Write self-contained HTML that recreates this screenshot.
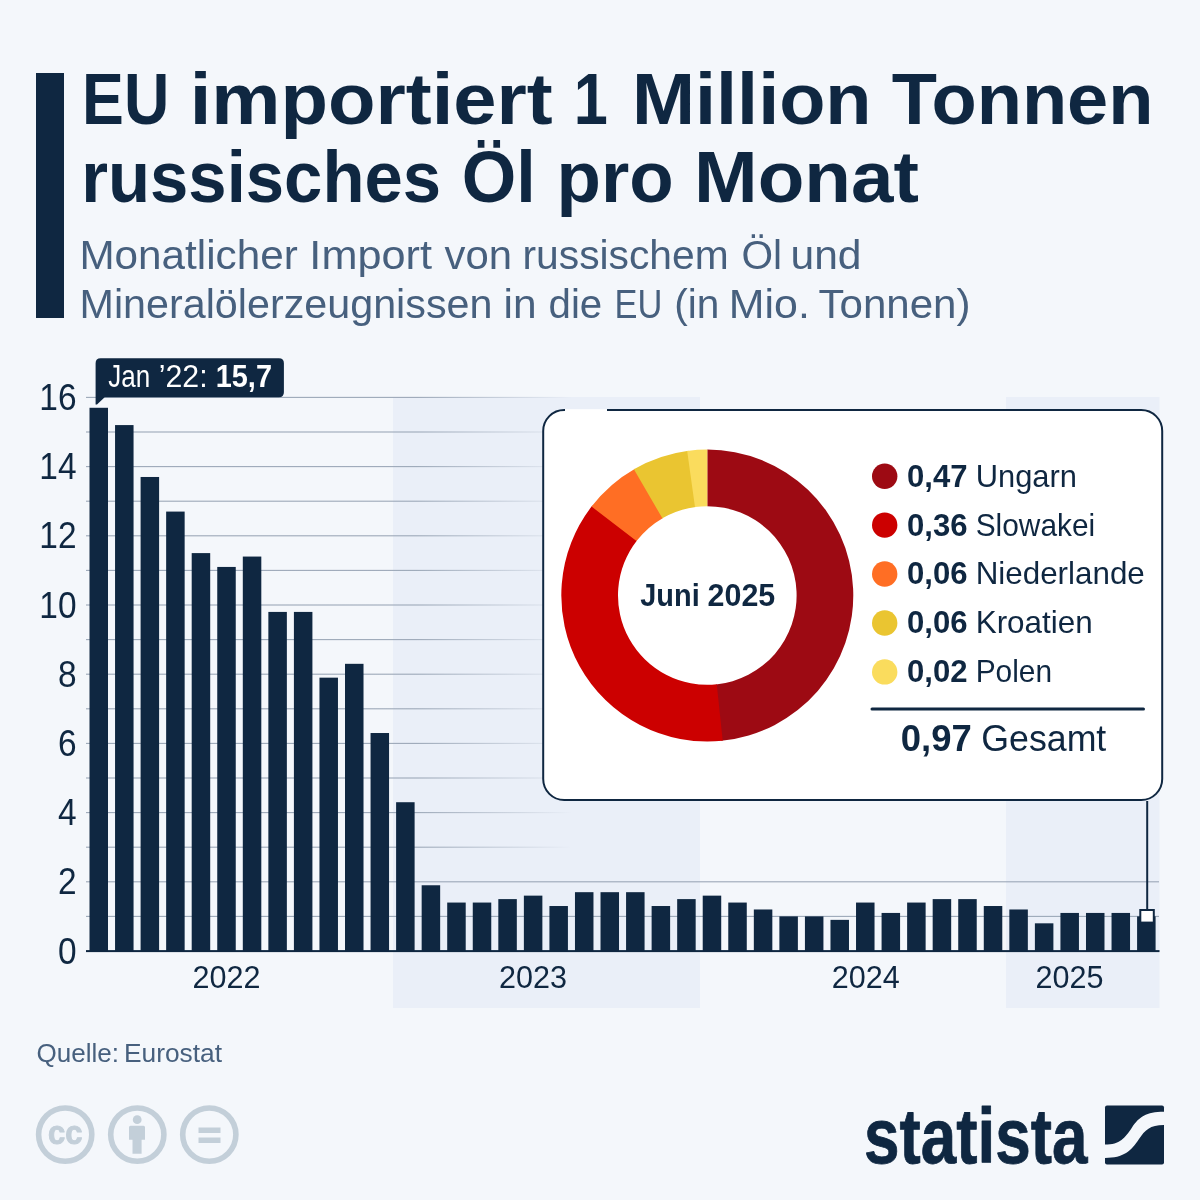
<!DOCTYPE html>
<html lang="de"><head><meta charset="utf-8"><title>EU importiert 1 Million Tonnen russisches Öl pro Monat</title>
<style>html,body{margin:0;padding:0;background:#f4f7fb;}body{width:1200px;height:1200px;overflow:hidden;}svg{display:block;}text{font-family:"Liberation Sans",sans-serif;}</style>
</head><body>
<svg width="1200" height="1200" viewBox="0 0 1200 1200">
<defs>
<linearGradient id="fadeR" gradientUnits="userSpaceOnUse" x1="86" x2="572" y1="0" y2="0"><stop offset="0" stop-color="#9ca8b8" stop-opacity="1"/><stop offset="0.68" stop-color="#9ca8b8" stop-opacity="1"/><stop offset="1" stop-color="#9ca8b8" stop-opacity="0"/></linearGradient>
</defs>
<rect x="0" y="0" width="1200" height="1200" fill="#f4f7fb"/>
<rect x="36" y="73" width="28" height="245" fill="#0f2741"/>
<text y="123.9" font-size="72.7" font-weight="700" fill="#0f2741"><tspan x="82.04" textLength="87.22" lengthAdjust="spacingAndGlyphs">EU</tspan> <tspan x="189.65" textLength="363.07" lengthAdjust="spacingAndGlyphs">importiert</tspan> <tspan x="573.63" textLength="34.07" lengthAdjust="spacingAndGlyphs">1</tspan> <tspan x="632.09" textLength="239.49" lengthAdjust="spacingAndGlyphs">Million</tspan> <tspan x="891.75" textLength="261.73" lengthAdjust="spacingAndGlyphs">Tonnen</tspan></text>
<text y="201.7" font-size="72.7" font-weight="700" fill="#0f2741"><tspan x="81.21" textLength="359.84" lengthAdjust="spacingAndGlyphs">russisches</tspan> <tspan x="461.82" textLength="73.97" lengthAdjust="spacingAndGlyphs">Öl</tspan> <tspan x="556.50" textLength="117.15" lengthAdjust="spacingAndGlyphs">pro</tspan> <tspan x="694.05" textLength="224.92" lengthAdjust="spacingAndGlyphs">Monat</tspan></text>
<text y="269.4" font-size="41.3" font-weight="400" fill="#47607e"><tspan x="79.43" textLength="218.31" lengthAdjust="spacingAndGlyphs">Monatlicher</tspan> <tspan x="309.36" textLength="122.59" lengthAdjust="spacingAndGlyphs">Import</tspan> <tspan x="444.50" textLength="67.49" lengthAdjust="spacingAndGlyphs">von</tspan> <tspan x="522.53" textLength="206.09" lengthAdjust="spacingAndGlyphs">russischem</tspan> <tspan x="741.52" textLength="40.62" lengthAdjust="spacingAndGlyphs">Öl</tspan> <tspan x="790.44" textLength="71.09" lengthAdjust="spacingAndGlyphs">und</tspan></text>
<text y="318.2" font-size="41.3" font-weight="400" fill="#47607e"><tspan x="79.50" textLength="412.96" lengthAdjust="spacingAndGlyphs">Mineralölerzeugnissen</tspan> <tspan x="503.44" textLength="33.08" lengthAdjust="spacingAndGlyphs">in</tspan> <tspan x="548.53" textLength="53.67" lengthAdjust="spacingAndGlyphs">die</tspan> <tspan x="614.50" textLength="47.86" lengthAdjust="spacingAndGlyphs">EU</tspan> <tspan x="674.28" textLength="45.15" lengthAdjust="spacingAndGlyphs">(in</tspan> <tspan x="728.89" textLength="80.97" lengthAdjust="spacingAndGlyphs">Mio.</tspan> <tspan x="818.50" textLength="152.04" lengthAdjust="spacingAndGlyphs">Tonnen)</tspan></text>
<rect x="393" y="397" width="307" height="611" fill="#eaeff8"/>
<rect x="1006" y="397" width="153.5" height="611" fill="#eaeff8"/>
<rect x="86" y="915.85" width="1073" height="1.1" fill="#9ca8b8"/>
<rect x="86" y="881.25" width="1073" height="1.1" fill="#9ca8b8"/>
<rect x="86" y="846.65" width="486" height="1.1" fill="url(#fadeR)"/>
<rect x="86" y="812.05" width="486" height="1.1" fill="url(#fadeR)"/>
<rect x="86" y="777.45" width="486" height="1.1" fill="url(#fadeR)"/>
<rect x="86" y="742.85" width="486" height="1.1" fill="url(#fadeR)"/>
<rect x="86" y="708.25" width="486" height="1.1" fill="url(#fadeR)"/>
<rect x="86" y="673.65" width="486" height="1.1" fill="url(#fadeR)"/>
<rect x="86" y="639.05" width="486" height="1.1" fill="url(#fadeR)"/>
<rect x="86" y="604.45" width="486" height="1.1" fill="url(#fadeR)"/>
<rect x="86" y="569.85" width="486" height="1.1" fill="url(#fadeR)"/>
<rect x="86" y="535.25" width="486" height="1.1" fill="url(#fadeR)"/>
<rect x="86" y="500.65" width="486" height="1.1" fill="url(#fadeR)"/>
<rect x="86" y="466.05" width="486" height="1.1" fill="url(#fadeR)"/>
<rect x="86" y="431.45" width="486" height="1.1" fill="url(#fadeR)"/>
<rect x="86" y="396.85" width="486" height="1.1" fill="url(#fadeR)"/>
<rect x="89.50" y="407.78" width="18.5" height="543.22" fill="#0f2741"/>
<rect x="115.05" y="425.08" width="18.5" height="525.92" fill="#0f2741"/>
<rect x="140.60" y="476.98" width="18.5" height="474.02" fill="#0f2741"/>
<rect x="166.15" y="511.58" width="18.5" height="439.42" fill="#0f2741"/>
<rect x="191.70" y="553.10" width="18.5" height="397.90" fill="#0f2741"/>
<rect x="217.25" y="566.94" width="18.5" height="384.06" fill="#0f2741"/>
<rect x="242.81" y="556.56" width="18.5" height="394.44" fill="#0f2741"/>
<rect x="268.36" y="611.92" width="18.5" height="339.08" fill="#0f2741"/>
<rect x="293.91" y="611.92" width="18.5" height="339.08" fill="#0f2741"/>
<rect x="319.46" y="677.66" width="18.5" height="273.34" fill="#0f2741"/>
<rect x="345.01" y="663.82" width="18.5" height="287.18" fill="#0f2741"/>
<rect x="370.56" y="733.02" width="18.5" height="217.98" fill="#0f2741"/>
<rect x="396.11" y="802.22" width="18.5" height="148.78" fill="#0f2741"/>
<rect x="421.66" y="885.26" width="18.5" height="65.74" fill="#0f2741"/>
<rect x="447.21" y="902.56" width="18.5" height="48.44" fill="#0f2741"/>
<rect x="472.76" y="902.56" width="18.5" height="48.44" fill="#0f2741"/>
<rect x="498.32" y="899.10" width="18.5" height="51.90" fill="#0f2741"/>
<rect x="523.87" y="895.64" width="18.5" height="55.36" fill="#0f2741"/>
<rect x="549.42" y="906.02" width="18.5" height="44.98" fill="#0f2741"/>
<rect x="574.97" y="892.18" width="18.5" height="58.82" fill="#0f2741"/>
<rect x="600.52" y="892.18" width="18.5" height="58.82" fill="#0f2741"/>
<rect x="626.07" y="892.18" width="18.5" height="58.82" fill="#0f2741"/>
<rect x="651.62" y="906.02" width="18.5" height="44.98" fill="#0f2741"/>
<rect x="677.17" y="899.10" width="18.5" height="51.90" fill="#0f2741"/>
<rect x="702.72" y="895.64" width="18.5" height="55.36" fill="#0f2741"/>
<rect x="728.27" y="902.56" width="18.5" height="48.44" fill="#0f2741"/>
<rect x="753.83" y="909.48" width="18.5" height="41.52" fill="#0f2741"/>
<rect x="779.38" y="916.40" width="18.5" height="34.60" fill="#0f2741"/>
<rect x="804.93" y="916.40" width="18.5" height="34.60" fill="#0f2741"/>
<rect x="830.48" y="919.86" width="18.5" height="31.14" fill="#0f2741"/>
<rect x="856.03" y="902.56" width="18.5" height="48.44" fill="#0f2741"/>
<rect x="881.58" y="912.94" width="18.5" height="38.06" fill="#0f2741"/>
<rect x="907.13" y="902.56" width="18.5" height="48.44" fill="#0f2741"/>
<rect x="932.68" y="899.10" width="18.5" height="51.90" fill="#0f2741"/>
<rect x="958.23" y="899.10" width="18.5" height="51.90" fill="#0f2741"/>
<rect x="983.78" y="906.02" width="18.5" height="44.98" fill="#0f2741"/>
<rect x="1009.34" y="909.48" width="18.5" height="41.52" fill="#0f2741"/>
<rect x="1034.89" y="923.32" width="18.5" height="27.68" fill="#0f2741"/>
<rect x="1060.44" y="912.94" width="18.5" height="38.06" fill="#0f2741"/>
<rect x="1085.99" y="912.94" width="18.5" height="38.06" fill="#0f2741"/>
<rect x="1111.54" y="912.94" width="18.5" height="38.06" fill="#0f2741"/>
<rect x="1137.09" y="916.40" width="18.5" height="34.60" fill="#0f2741"/>
<rect x="86" y="950.1" width="1073.5" height="2" fill="#0f2741"/>
<text x="76.5" y="963.6" font-size="36" fill="#0f2741" text-anchor="end" textLength="18.6" lengthAdjust="spacingAndGlyphs">0</text>
<text x="76.5" y="894.4" font-size="36" fill="#0f2741" text-anchor="end" textLength="18.6" lengthAdjust="spacingAndGlyphs">2</text>
<text x="76.5" y="825.2" font-size="36" fill="#0f2741" text-anchor="end" textLength="18.6" lengthAdjust="spacingAndGlyphs">4</text>
<text x="76.5" y="756.0" font-size="36" fill="#0f2741" text-anchor="end" textLength="18.6" lengthAdjust="spacingAndGlyphs">6</text>
<text x="76.5" y="686.8" font-size="36" fill="#0f2741" text-anchor="end" textLength="18.6" lengthAdjust="spacingAndGlyphs">8</text>
<text x="76.5" y="617.6" font-size="36" fill="#0f2741" text-anchor="end" textLength="37.2" lengthAdjust="spacingAndGlyphs">10</text>
<text x="76.5" y="548.4" font-size="36" fill="#0f2741" text-anchor="end" textLength="37.2" lengthAdjust="spacingAndGlyphs">12</text>
<text x="76.5" y="479.2" font-size="36" fill="#0f2741" text-anchor="end" textLength="37.2" lengthAdjust="spacingAndGlyphs">14</text>
<text x="76.5" y="410.0" font-size="36" fill="#0f2741" text-anchor="end" textLength="37.2" lengthAdjust="spacingAndGlyphs">16</text>
<text x="226.6" y="988" font-size="30.5" fill="#0f2741" text-anchor="middle" textLength="68" lengthAdjust="spacingAndGlyphs">2022</text>
<text x="533.0" y="988" font-size="30.5" fill="#0f2741" text-anchor="middle" textLength="68" lengthAdjust="spacingAndGlyphs">2023</text>
<text x="865.7" y="988" font-size="30.5" fill="#0f2741" text-anchor="middle" textLength="68" lengthAdjust="spacingAndGlyphs">2024</text>
<text x="1069.6" y="988" font-size="30.5" fill="#0f2741" text-anchor="middle" textLength="68" lengthAdjust="spacingAndGlyphs">2025</text>
<path d="M95.6 404.6 L95.6 363.2 Q95.6 358.2 100.6 358.2 L278.9 358.2 Q283.9 358.2 283.9 363.2 L283.9 392.3 Q283.9 397.3 278.9 397.3 L104.7 397.3 L97 404.6 Z" fill="#0f2741"/>
<text y="386.7" font-size="31" fill="#ffffff"><tspan x="108.30" textLength="41.94" lengthAdjust="spacingAndGlyphs">Jan</tspan> <tspan x="158.72" textLength="48.83" lengthAdjust="spacingAndGlyphs">’22:</tspan> <tspan x="215.77" textLength="56.19" lengthAdjust="spacingAndGlyphs" font-weight="700">15,7</tspan></text>
<rect x="543.2" y="410" width="619" height="390" rx="21" ry="21" fill="#ffffff" stroke="#0f2741" stroke-width="2"/>
<rect x="565" y="408.6" width="42" height="3.4" fill="#ffffff"/><rect x="565" y="408" width="42" height="1.2" fill="#eaeff8"/>
<line x1="1147.2" x2="1147.2" y1="801" y2="911" stroke="#0f2741" stroke-width="2"/>
<rect x="1140.3" y="910" width="13.5" height="12.6" fill="#ffffff" stroke="#0f2741" stroke-width="2"/>
<path d="M707.30 449.50 A146 146 0 0 1 721.46 740.81 L715.96 684.38 A89.3 89.3 0 0 0 707.30 506.20 Z" fill="#9d0a13"/>
<path d="M722.73 740.68 A146 146 0 0 1 592.32 505.53 L636.97 540.47 A89.3 89.3 0 0 0 716.74 684.30 Z" fill="#cc0000"/>
<path d="M591.53 506.54 A146 146 0 0 1 634.98 468.67 L663.07 517.92 A89.3 89.3 0 0 0 636.49 541.09 Z" fill="#ff6e24"/>
<path d="M633.88 469.30 A146 146 0 0 1 688.44 450.72 L695.76 506.95 A89.3 89.3 0 0 0 662.39 518.31 Z" fill="#eac531"/>
<path d="M687.18 450.89 A146 146 0 0 1 707.30 449.50 L707.30 506.20 A89.3 89.3 0 0 0 694.99 507.05 Z" fill="#fadc5d"/>
<text y="605.8" font-size="32" font-weight="700" fill="#0f2741"><tspan x="640.30" textLength="59.41" lengthAdjust="spacingAndGlyphs">Juni</tspan> <tspan x="707.55" textLength="67.71" lengthAdjust="spacingAndGlyphs">2025</tspan></text>
<circle cx="884.7" cy="476.2" r="12.7" fill="#9d0a13"/>
<text x="907" y="486.6" font-size="31.2" font-weight="700" fill="#0f2741" textLength="60.5" lengthAdjust="spacingAndGlyphs">0,47</text>
<text x="975.7" y="486.6" font-size="31.2" fill="#0f2741" textLength="101.3" lengthAdjust="spacingAndGlyphs">Ungarn</text>
<circle cx="884.7" cy="525.1" r="12.7" fill="#cc0000"/>
<text x="907" y="535.5" font-size="31.2" font-weight="700" fill="#0f2741" textLength="60.5" lengthAdjust="spacingAndGlyphs">0,36</text>
<text x="975.7" y="535.5" font-size="31.2" fill="#0f2741" textLength="119.5" lengthAdjust="spacingAndGlyphs">Slowakei</text>
<circle cx="884.7" cy="574.0" r="12.7" fill="#ff6e24"/>
<text x="907" y="584.4" font-size="31.2" font-weight="700" fill="#0f2741" textLength="60.5" lengthAdjust="spacingAndGlyphs">0,06</text>
<text x="975.7" y="584.4" font-size="31.2" fill="#0f2741" textLength="169.1" lengthAdjust="spacingAndGlyphs">Niederlande</text>
<circle cx="884.7" cy="623.0" r="12.7" fill="#eac531"/>
<text x="907" y="633.4" font-size="31.2" font-weight="700" fill="#0f2741" textLength="60.5" lengthAdjust="spacingAndGlyphs">0,06</text>
<text x="975.7" y="633.4" font-size="31.2" fill="#0f2741" textLength="117.1" lengthAdjust="spacingAndGlyphs">Kroatien</text>
<circle cx="884.7" cy="671.9" r="12.7" fill="#fadc5d"/>
<text x="907" y="682.2" font-size="31.2" font-weight="700" fill="#0f2741" textLength="60.5" lengthAdjust="spacingAndGlyphs">0,02</text>
<text x="975.7" y="682.2" font-size="31.2" fill="#0f2741" textLength="76.4" lengthAdjust="spacingAndGlyphs">Polen</text>
<rect x="870.5" y="707.6" width="274.5" height="3" rx="1.5" fill="#0f2741"/>
<text x="900.8" y="750.8" font-size="36.5" font-weight="700" fill="#0f2741" textLength="71" lengthAdjust="spacingAndGlyphs">0,97</text>
<text x="981.3" y="750.8" font-size="36.5" fill="#0f2741" textLength="125" lengthAdjust="spacingAndGlyphs">Gesamt</text>
<text y="1062.4" font-size="25.3" fill="#47607e"><tspan x="36.57" textLength="82.52" lengthAdjust="spacingAndGlyphs">Quelle:</tspan> <tspan x="123.92" textLength="98.11" lengthAdjust="spacingAndGlyphs">Eurostat</tspan></text>
<circle cx="65.2" cy="1134.6" r="26.6" fill="none" stroke="#c3cfd9" stroke-width="5.6"/>
<circle cx="137.3" cy="1134.6" r="26.6" fill="none" stroke="#c3cfd9" stroke-width="5.6"/>
<circle cx="209.3" cy="1134.6" r="26.6" fill="none" stroke="#c3cfd9" stroke-width="5.6"/>
<text x="65.2" y="1143.6" font-size="33" font-weight="700" fill="#c3cfd9" stroke="#c3cfd9" stroke-width="1" stroke-linejoin="round" text-anchor="middle" textLength="34.5" lengthAdjust="spacingAndGlyphs">cc</text>
<circle cx="137.2" cy="1119.7" r="4.4" fill="#c3cfd9"/>
<path d="M130.5 1125.7 h13 q1.5 0 1.5 1.5 v12.6 h-3.4 v14 h-9.1 v-14 h-3.5 v-12.6 q0 -1.5 1.5 -1.5 Z" fill="#c3cfd9"/>
<rect x="198.5" y="1127.5" width="22" height="5.5" fill="#c3cfd9"/>
<rect x="198.5" y="1137.5" width="22" height="5.5" fill="#c3cfd9"/>
<text x="864" y="1162.7" font-size="78" font-weight="700" fill="#0f2741" stroke="#0f2741" stroke-width="0.8" stroke-linejoin="round" textLength="223.5" lengthAdjust="spacingAndGlyphs">statista</text>
<rect x="1105" y="1105.5" width="59" height="59" rx="2" fill="#0f2741"/>
<path d="M1104 1144.6 L1105 1144.6 C1120 1144.6 1125 1138 1132 1127.5 C1139 1117 1146 1111.75 1163.9 1111.75 L1165 1111.75 L1165 1124.9 L1163.9 1124.9 C1150 1124.9 1145 1130 1139 1139 C1131 1151 1124 1157.9 1105 1157.9 L1104 1157.9 Z" fill="#f4f7fb"/>
</svg>
</body></html>
